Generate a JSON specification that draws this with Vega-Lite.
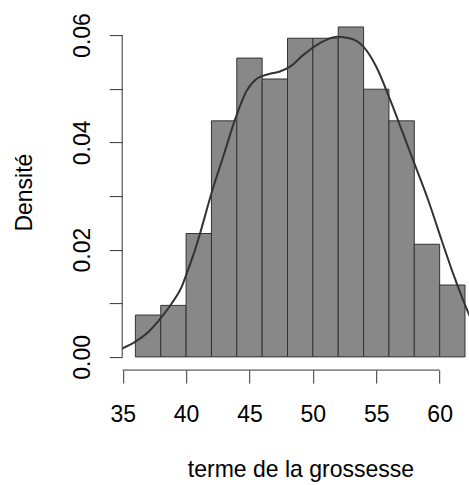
{
  "$schema": "https://vega.github.io/schema/vega-lite/v6.json",
  "autosize": {"type": "none"},
  "padding": {"left": 122.2, "top": 14.1, "right": 0, "bottom": 115},
  "width": 347,
  "height": 356,
  "background": "white",
  "config": {
    "view": {"stroke": null},
    "font": "Liberation Sans"
  },
  "datasets": {
    "bars": [
      {"start": 36, "end": 38, "density": 0.0078},
      {"start": 38, "end": 40, "density": 0.0096},
      {"start": 40, "end": 42, "density": 0.0230},
      {"start": 42, "end": 44, "density": 0.0440},
      {"start": 44, "end": 46, "density": 0.0557},
      {"start": 46, "end": 48, "density": 0.0518},
      {"start": 48, "end": 50, "density": 0.0594},
      {"start": 50, "end": 52, "density": 0.0594},
      {"start": 52, "end": 54, "density": 0.0615},
      {"start": 54, "end": 56, "density": 0.0499},
      {"start": 56, "end": 58, "density": 0.0440},
      {"start": 58, "end": 60, "density": 0.0210},
      {"start": 60, "end": 62, "density": 0.0134}
    ],
    "dens": [
      {"x": 34.96, "d": 0.00157},
      {"x": 35.97, "d": 0.0028},
      {"x": 37.02, "d": 0.00466},
      {"x": 38.08, "d": 0.00746},
      {"x": 38.86, "d": 0.00996},
      {"x": 39.65, "d": 0.01306},
      {"x": 40.05, "d": 0.01556},
      {"x": 40.7, "d": 0.0199},
      {"x": 41.1, "d": 0.0230},
      {"x": 42.0, "d": 0.0305},
      {"x": 42.95, "d": 0.0375},
      {"x": 43.9, "d": 0.0445},
      {"x": 44.8, "d": 0.0497},
      {"x": 45.6, "d": 0.0519},
      {"x": 46.5, "d": 0.0527},
      {"x": 47.4, "d": 0.0532},
      {"x": 48.2, "d": 0.0541},
      {"x": 49.25, "d": 0.0563},
      {"x": 50.55, "d": 0.0585},
      {"x": 51.9, "d": 0.0597},
      {"x": 52.9, "d": 0.0594},
      {"x": 54.0, "d": 0.0578},
      {"x": 55.0, "d": 0.0541},
      {"x": 56.1, "d": 0.0479},
      {"x": 57.1, "d": 0.0417},
      {"x": 58.05, "d": 0.0358},
      {"x": 59.1, "d": 0.0292},
      {"x": 60.15, "d": 0.0218},
      {"x": 61.05, "d": 0.0156},
      {"x": 61.85, "d": 0.0106},
      {"x": 62.6, "d": 0.0064}
    ],
    "xline": [{"from": 35, "to": 60}],
    "yline": [{"from": 0, "to": 0.06}]
  },
  "layer": [
    {
      "data": {"name": "bars"},
      "mark": {"type": "rect", "fill": "#888888", "stroke": "#333333", "strokeWidth": 1},
      "encoding": {
        "x": {
          "field": "start", "type": "quantitative",
          "scale": {"domain": [34.96, 62.33], "nice": false, "zero": false},
          "axis": {
            "values": [35, 40, 45, 50, 55, 60],
            "domain": false, "grid": false,
            "tickSize": 13, "tickColor": "#333", "tickWidth": 1,
            "labelFontSize": 23, "labelColor": "#000", "labelFlush": false,
            "labelPadding": 38.6, "labelBaseline": "alphabetic",
            "title": "terme de la grossesse",
            "titleFontSize": 23, "titleFontWeight": "normal", "titleColor": "#000",
            "titleX": 178.2, "titleY": 106.4, "titleBaseline": "alphabetic", "titleAlign": "center"
          }
        },
        "x2": {"field": "end"},
        "y": {
          "field": "density", "type": "quantitative",
          "scale": {"domain": [-0.00246, 0.0639], "nice": false, "zero": false},
          "axis": {
            "values": [0, 0.01, 0.02, 0.03, 0.04, 0.05, 0.06],
            "labelExpr": "round(datum.value*100) % 2 == 0 ? format(datum.value, '.2f') : ''",
            "domain": false, "grid": false,
            "tickSize": 13, "tickColor": "#333", "tickWidth": 1,
            "labelFontSize": 23, "labelColor": "#000", "labelAngle": -90,
            "labelAlign": "center", "labelBaseline": "alphabetic", "labelPadding": 20,
            "title": "Densité",
            "titleFontSize": 23, "titleFontWeight": "normal", "titleColor": "#000",
            "titleAngle": -90, "titleX": -90.5, "titleY": 178,
            "titleBaseline": "alphabetic", "titleAlign": "center"
          }
        },
        "y2": {"datum": 0}
      }
    },
    {
      "data": {"name": "dens"},
      "mark": {"type": "line", "color": "#333333", "strokeWidth": 2, "interpolate": "monotone", "clip": true},
      "encoding": {
        "x": {"field": "x", "type": "quantitative"},
        "y": {"field": "d", "type": "quantitative"}
      }
    },
    {
      "data": {"name": "xline"},
      "mark": {"type": "rule", "color": "#333", "strokeWidth": 1},
      "encoding": {
        "x": {"field": "from", "type": "quantitative"},
        "x2": {"field": "to"},
        "y": {"datum": -0.00246}
      }
    },
    {
      "data": {"name": "yline"},
      "mark": {"type": "rule", "color": "#333", "strokeWidth": 1},
      "encoding": {
        "y": {"field": "from", "type": "quantitative"},
        "y2": {"field": "to"},
        "x": {"datum": 34.96}
      }
    }
  ]
}
